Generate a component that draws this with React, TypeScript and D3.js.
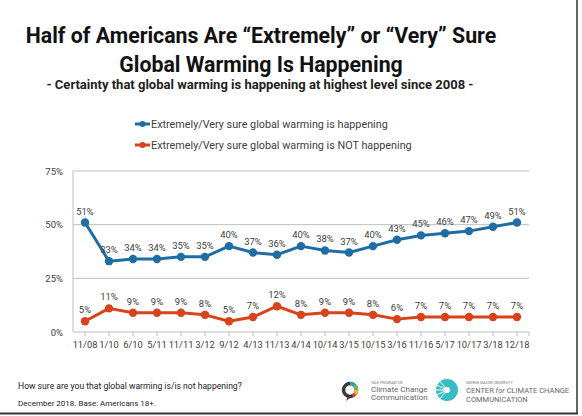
import React from "react";
import * as d3 from "d3";

const categories = ["11/08","1/10","6/10","5/11","11/11","3/12","9/12","4/13","11/13","4/14","10/14","3/15","10/15","3/16","11/16","5/17","10/17","3/18","12/18"];
const happening = [51,33,34,34,35,35,40,37,36,40,38,37,40,43,45,46,47,49,51];
const notHappening = [5,11,9,9,9,8,5,7,12,8,9,9,8,6,7,7,7,7,7];
const yTicks = [0,25,50,75];
const seriesNames = ["Extremely/Very sure global warming is happening","Extremely/Very sure global warming is NOT happening"];

const W = 582, H = 416;
const BLUE = "#1f6ea3";
const RED = "#d8431c";
const FONT = "Roboto, 'Noto Sans', sans-serif";

export default function App() {
  const x = d3.scaleBand<string>().domain(categories).range([73, 529]).padding(0);
  const y = d3.scaleLinear().domain([0, 75]).range([332, 171]);
  const cx = (c: string) => (x(c) as number) + x.bandwidth() / 2;
  const line = d3.line<number>().x((_, i) => cx(categories[i])).y(d => y(d));
  const series = [
    { vals: happening, color: BLUE },
    { vals: notHappening, color: RED },
  ];
  return (
    <div style={{ position: "absolute", left: 0, top: 0 }}>
      <svg width={W} height={H} style={{ display: "block", fontFamily: FONT }}>
        <rect x={0} y={0} width={W} height={H} fill="#fff" />
        {/* title */}
        <text x={261} y={43} textAnchor="middle" fontSize={21.3} fontWeight={700} fill="#111">Half of Americans Are “Extremely” or “Very” Sure</text>
        <text x={261} y={72} textAnchor="middle" fontSize={21.3} fontWeight={700} fill="#111">Global Warming Is Happening</text>
        <text x={260} y={89} textAnchor="middle" fontSize={13} fontWeight={700} fill="#222">- Certainty that global warming is happening at highest level since 2008 -</text>
        {/* legend */}
        {series.map((s, i) => (
          <g key={i} transform={`translate(0,${124 + i * 21})`}>
            <line x1={135} x2={150} y1={0} y2={0} stroke={s.color} strokeWidth={3} />
            <circle cx={142.5} cy={0} r={3} fill={s.color} />
            <text x={151} y={4} fontSize={10.8} fill="#404040">{seriesNames[i]}</text>
          </g>
        ))}
        {/* grid */}
        {yTicks.map(t => (
          <g key={t}>
            {t > 0 && <line x1={73} x2={529} y1={y(t)} y2={y(t)} stroke="#bdbdbd" strokeWidth={1} />}
            <text x={63} y={y(t) + 3.5} textAnchor="end" fontSize={9.5} fill="#404040">{t}%</text>
          </g>
        ))}
        <line x1={73} x2={73} y1={171} y2={332} stroke="#bdbdbd" strokeWidth={1} />
        <line x1={73} x2={529} y1={332} y2={332} stroke="#bdbdbd" strokeWidth={1} />
        {categories.map(c => (
          <g key={c}>
            <line x1={cx(c)} x2={cx(c)} y1={332} y2={336} stroke="#bdbdbd" />
            <text x={cx(c)} y={348} textAnchor="middle" fontSize={9.3} fill="#404040">{c}</text>
          </g>
        ))}
        <line x1={529} x2={529} y1={332} y2={336} stroke="#bdbdbd" />
        {/* series */}
        {series.map((s, i) => (
          <g key={i}>
            <path d={line(s.vals) as string} fill="none" stroke={s.color} strokeWidth={3} strokeLinejoin="round" />
            {s.vals.map((v, j) => (
              <g key={j}>
                <circle cx={cx(categories[j])} cy={y(v)} r={4.2} fill={s.color} />
                <text x={cx(categories[j])} y={y(v) - 8} textAnchor="middle" fontSize={9.5} fill="#404040">{v}%</text>
              </g>
            ))}
          </g>
        ))}
        {/* footer */}
        <text x={18} y={389} fontSize={8.6} fill="#222">How sure are you that global warming is/is not happening?</text>
        <text x={18} y={406} fontSize={8} fill="#222">December 2018. Base: Americans 18+.</text>
        {/* Yale logo */}
        <g transform="translate(350,390)">
          <circle r={6.5} fill="none" stroke="#3a3a3a" strokeWidth={3.5} />
          <path d="M0,-6.5 A6.5,6.5 0 0 1 6.5,0" fill="none" stroke="#2d9ad6" strokeWidth={3.5} />
          <path d="M6.5,0 A6.5,6.5 0 0 1 3,5.8" fill="none" stroke="#f2b632" strokeWidth={3.5} />
          <path d="M4.6,-4.6 A6.5,6.5 0 0 1 6.5,0" fill="none" stroke="#6fbe44" strokeWidth={3.5} />
          <path d="M-2,6 L-4,11 L1,7 Z" fill="#3a3a3a" />
          <circle cx={4} cy={5} r={1.8} fill="#d9363e" />
        </g>
        <text x={371} y={384} fontSize={3.5} fill="#777">YALE PROGRAM ON</text>
        <text x={371} y={392} fontSize={8} fill="#666">Climate Change</text>
        <text x={371} y={400} fontSize={8} fill="#666">Communication</text>
        {/* GMU logo */}
        <g transform="translate(447,390)">
          <circle r={11} fill="#39bcc6" />
          {[0, 1, 2, 3, 4].map(k => (
            <path key={k} d={`M0,0 L${-11 * Math.cos(-0.9 + k * 0.45)},${11 * Math.sin(-0.9 + k * 0.45)}`} stroke="#fff" strokeWidth={1} />
          ))}
          <circle r={3} fill="#fff" />
        </g>
        <text x={466} y={384} fontSize={3.5} fill="#777">GEORGE MASON UNIVERSITY</text>
        <text x={466} y={393} fontSize={7.5} fill="#666">CENTER <tspan fontStyle="italic">for</tspan> CLIMATE CHANGE</text>
        <text x={466} y={401.5} fontSize={7.5} fill="#666">COMMUNICATION</text>
        {/* border */}
        <line x1={577} x2={577} y1={0} y2={414} stroke="#333" strokeWidth={1.5} />
        <line x1={0} x2={578} y1={413.5} y2={413.5} stroke="#333" strokeWidth={2} />
      </svg>
    </div>
  );
}
